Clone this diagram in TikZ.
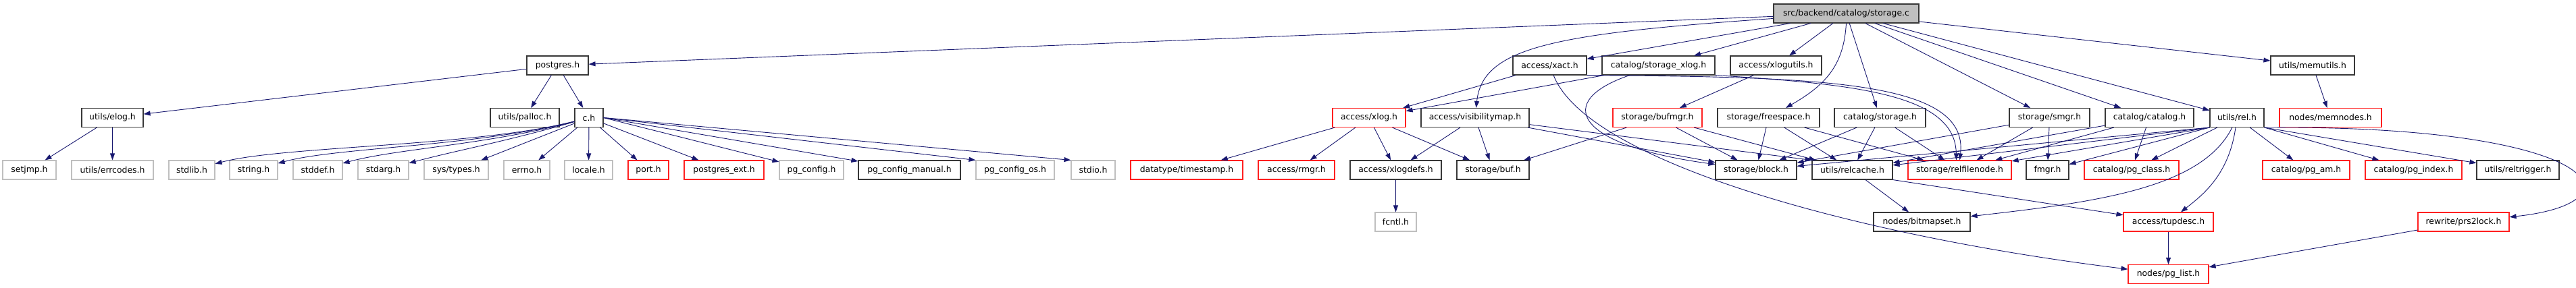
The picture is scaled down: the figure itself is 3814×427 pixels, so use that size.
\documentclass[tikz,border=0pt]{standalone}
\usepackage{fontspec}
\setmainfont{DejaVu Sans}
\usetikzlibrary{arrows.meta}
\definecolor{edgeblue}{HTML}{191970}
\definecolor{boxgray}{HTML}{BFBFBF}
\definecolor{boxred}{HTML}{FF2020}
\newcommand\hdrfont{\fontsize{12.4}{14}\selectfont}
\begin{document}
\begin{tikzpicture}[x=1pt,y=1pt,
  hdr/.style={draw=black!78,line width=1.1pt,minimum height=28pt,inner sep=0pt,font=\hdrfont},
  sys/.style={hdr,draw=boxgray},
  trunc/.style={hdr,draw=boxred},
  incl/.style={draw=edgeblue,line width=0.9pt,-{Triangle[length=10pt,width=7pt]}}]
\useasboundingbox (0,0) rectangle (3814,-427);

\node[hdr,fill=boxgray,minimum width=215pt] (root) at (2733.5,-20) {src/backend/catalog/storage.c};

\node[hdr,minimum width=91pt] (postgres) at (825.5,-97) {postgres.h};
\node[hdr,minimum width=109pt] (xact) at (2294.5,-97) {access/xact.h};
\node[hdr,minimum width=167pt] (storagexlog) at (2455.5,-97) {catalog/storage\_xlog.h};
\node[hdr,minimum width=135pt] (xlogutils) at (2629.5,-97) {access/xlogutils.h};
\node[hdr,minimum width=124pt] (memutils) at (3424,-97) {utils/memutils.h};

\node[hdr,minimum width=91pt] (elog) at (166.5,-174.5) {utils/elog.h};
\node[hdr,minimum width=102pt] (palloc) at (777,-174.5) {utils/palloc.h};
\node[hdr,minimum width=42pt] (ch) at (872,-174.5) {c.h};
\node[trunc,minimum width=108pt] (xlog) at (2027,-174.5) {access/xlog.h};
\node[hdr,minimum width=160pt] (vismap) at (2184,-174.5) {access/visibilitymap.h};
\node[trunc,minimum width=132pt] (bufmgr) at (2454,-174.5) {storage/bufmgr.h};
\node[hdr,minimum width=151pt] (freespace) at (2618.5,-174.5) {storage/freespace.h};
\node[hdr,minimum width=135pt] (catstorage) at (2783.5,-174.5) {catalog/storage.h};
\node[hdr,minimum width=119pt] (smgr) at (3034.5,-174.5) {storage/smgr.h};
\node[hdr,minimum width=131pt] (catalog) at (3182.5,-174.5) {catalog/catalog.h};
\node[hdr,minimum width=80pt] (rel) at (3312,-174.5) {utils/rel.h};
\node[trunc,minimum width=151pt] (memnodes) at (3450.5,-174.5) {nodes/memnodes.h};

\node[sys,minimum width=79pt] (setjmp) at (43.5,-252) {setjmp.h};
\node[sys,minimum width=121pt] (errcodes) at (166.5,-252) {utils/errcodes.h};
\node[sys,minimum width=68pt] (stdlib) at (284,-252) {stdlib.h};
\node[sys,minimum width=71pt] (string) at (375.5,-252) {string.h};
\node[sys,minimum width=73pt] (stddef) at (470.5,-252) {stddef.h};
\node[sys,minimum width=75pt] (stdarg) at (567.5,-252) {stdarg.h};
\node[sys,minimum width=95pt] (systypes) at (675.5,-252) {sys/types.h};
\node[sys,minimum width=68pt] (errno) at (780,-252) {errno.h};
\node[sys,minimum width=71pt] (locale) at (871.5,-252) {locale.h};
\node[trunc,minimum width=60pt] (port) at (960,-252) {port.h};
\node[trunc,minimum width=118pt] (pgext) at (1072,-252) {postgres\_ext.h};
\node[sys,minimum width=95pt] (pgconfig) at (1201.5,-252) {pg\_config.h};
\node[hdr,minimum width=151pt] (pgmanual) at (1346.5,-252) {pg\_config\_manual.h};
\node[sys,minimum width=116pt] (pgos) at (1503,-252) {pg\_config\_os.h};
\node[sys,minimum width=65pt] (stdio) at (1618.5,-252) {stdio.h};
\node[trunc,minimum width=166pt] (timestamp) at (1757,-252) {datatype/timestamp.h};
\node[trunc,minimum width=113pt] (rmgr) at (1919.5,-252) {access/rmgr.h};
\node[hdr,minimum width=135pt] (xlogdefs) at (2066.5,-252) {access/xlogdefs.h};
\node[hdr,minimum width=107pt] (buf) at (2210.5,-252) {storage/buf.h};
\node[hdr,minimum width=120pt] (block) at (2600,-252) {storage/block.h};
\node[hdr,minimum width=119pt] (relcache) at (2742.5,-252) {utils/relcache.h};
\node[trunc,minimum width=153pt] (relfilenode) at (2901.5,-252) {storage/relfilenode.h};
\node[hdr,minimum width=63pt] (fmgr) at (3031.5,-252) {fmgr.h};
\node[trunc,minimum width=140pt] (pgclass) at (3156,-252) {catalog/pg\_class.h};
\node[trunc,minimum width=129pt] (pgam) at (3414.5,-252) {catalog/pg\_am.h};
\node[trunc,minimum width=143pt] (pgindex) at (3573.5,-252) {catalog/pg\_index.h};
\node[hdr,minimum width=122pt] (reltrigger) at (3728,-252) {utils/reltrigger.h};

\node[sys,minimum width=61pt] (fcntl) at (2066.5,-329) {fcntl.h};
\node[hdr,minimum width=143pt] (bitmapset) at (2845.5,-329) {nodes/bitmapset.h};
\node[trunc,minimum width=133pt] (tupdesc) at (3210.5,-329) {access/tupdesc.h};
\node[trunc,minimum width=135pt] (prs2lock) at (3647.5,-329) {rewrite/prs2lock.h};

\node[trunc,minimum width=119pt] (pglist) at (3210.5,-406.5) {nodes/pg\_list.h};

\draw[incl] (root) -- (postgres);
\draw[incl] (root) .. controls (2300,-50) and (2195,-70) .. (vismap);
\draw[incl] (root) -- (xact);
\draw[incl] (root) -- (storagexlog);
\draw[incl] (root) -- (xlogutils);
\draw[incl] (root.south) .. controls (2730,-95) and (2705,-125) .. (freespace);
\draw[incl] (root) -- (catstorage);
\draw[incl] (root) -- (smgr);
\draw[incl] (root) -- (catalog);
\draw[incl] (root) -- (rel);
\draw[incl] (root) -- (memutils);

\draw[incl] (postgres) -- (elog);
\draw[incl] (postgres) -- (palloc);
\draw[incl] (postgres) -- (ch);
\draw[incl] (elog) -- (setjmp);
\draw[incl] (elog) -- (errcodes);

\draw[incl] (ch) .. controls (700,-218) and (420,-216) .. (stdlib);
\draw[incl] (ch) .. controls (700,-218) and (500,-218) .. (string);
\draw[incl] (ch) .. controls (720,-215) and (590,-220) .. (stddef);
\draw[incl] (ch) .. controls (740,-212) and (680,-222) .. (stdarg);
\draw[incl] (ch) -- (systypes);
\draw[incl] (ch) -- (errno);
\draw[incl] (ch) -- (locale);
\draw[incl] (ch) -- (port);
\draw[incl] (ch) -- (pgext);
\draw[incl] (ch.east) -- (pgconfig);
\draw[incl] (ch.east) -- (pgmanual);
\draw[incl] (ch.east) -- (pgos.north west);
\draw[incl] (ch.east) -- (stdio.north west);

\draw[incl] (memutils) -- (memnodes);
\draw[incl] (xact) -- (xlog);
\draw[incl] (storagexlog) -- (xlog);
\draw[incl] (xact.south east) .. controls (2700,-114) and (2915,-120) .. (relfilenode.north);
\draw[incl] (storagexlog.south east) .. controls (2750,-125) and (2895,-140) .. ([xshift=-5pt]relfilenode.north);
\draw[incl] (xact) .. controls (2350,-240) and (2750,-350) .. (pglist);
\draw[incl] (storagexlog) .. controls (2300,-150) and (2330,-215) .. (block);
\draw[incl] (xlogutils) -- (bufmgr);

\draw[incl] (xlog) -- (timestamp);
\draw[incl] (xlog) -- (rmgr);
\draw[incl] (xlog) -- (xlogdefs);
\draw[incl] (xlog) -- (buf);
\draw[incl] (xlogdefs) -- (fcntl);

\draw[incl] (vismap) -- (xlogdefs);
\draw[incl] (vismap) -- (buf);
\draw[incl] (vismap) -- (block);
\draw[incl] (vismap) -- (relcache.north west);

\draw[incl] (bufmgr) -- (buf);
\draw[incl] (bufmgr) -- (block);
\draw[incl] (bufmgr) -- (relcache);

\draw[incl] (freespace) -- (block);
\draw[incl] (freespace) -- (relcache);
\draw[incl] (freespace) -- (relfilenode);

\draw[incl] (catstorage) -- (block);
\draw[incl] (catstorage) -- (relcache);
\draw[incl] (catstorage) -- (relfilenode);

\draw[incl] (smgr) -- (block);
\draw[incl] (smgr) -- (relfilenode);
\draw[incl] (smgr) -- (fmgr);

\draw[incl] (catalog) -- (pgclass);
\draw[incl] (catalog) -- (relfilenode);
\draw[incl] (catalog) -- (relcache);

\draw[incl] (rel.south west) -- (block);
\draw[incl] (rel.south west) -- (relcache);
\draw[incl] (rel.south west) -- (relfilenode);
\draw[incl] (rel.south west) -- (fmgr);
\draw[incl] (rel) -- (pgclass);
\draw[incl] (rel) -- (pgam);
\draw[incl] (rel.south east) -- (pgindex);
\draw[incl] (rel.south east) -- (reltrigger);
\draw[incl] (rel.south east) .. controls (3850,-185) and (3920,-300) .. (prs2lock);
\draw[incl] (rel) .. controls (3300,-260) and (3260,-290) .. (tupdesc);
\draw[incl] (rel) .. controls (3260,-280) and (3100,-300) .. (bitmapset);

\draw[incl] (relcache) -- (bitmapset);
\draw[incl] (relcache.south east) -- (tupdesc);
\draw[incl] (tupdesc) -- (pglist);
\draw[incl] (prs2lock) -- (pglist);

\end{tikzpicture}
\end{document}
